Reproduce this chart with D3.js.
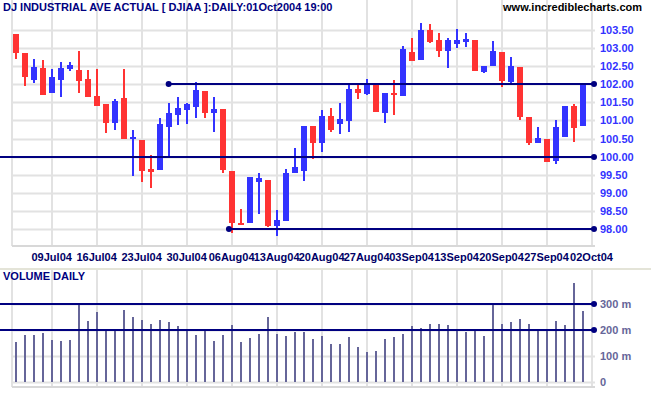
<!DOCTYPE html>
<html>
<head>
<meta charset="utf-8">
<script src="https://cdn.jsdelivr.net/npm/d3@7"></script>
<style>
  body { margin: 0; background: #fff; }
  svg { display: block; font-family: Arial, "Liberation Sans", sans-serif; font-weight: bold; font-size: 11px; }
</style>
</head>
<body>
<svg id="chart" width="651" height="395"></svg>
<script>
// Daily DJIA candles, 02 Jul 2004 .. 01 Oct 2004 (one entry per trading day)
const opens  = [103.38,102.85,102.11,102.44,101.76,102.11,102.41,102.39,102.14,101.67,
                101.45,100.94,101.61,100.48,100.46,99.65,99.63,100.83,101.15,101.29,
                101.38,101.82,101.20,101.31,99.61,98.18,98.17,99.29,99.36,98.09,
                98.24,99.54,99.61,100.85,100.39,101.13,100.90,100.99,101.86,101.73,
                102.00,101.21,101.75,101.67,102.87,102.66,103.49,103.20,102.92,103.10,
                103.17,103.21,102.34,102.51,102.89,102.07,102.48,101.10,100.39,100.49,
                99.89,100.55,101.40,100.85];
const highs  = [103.38,102.85,102.69,102.66,102.42,102.61,102.60,102.91,102.39,102.41,
                101.45,101.59,102.41,100.74,100.46,100.05,101.06,101.47,101.64,101.47,
                102.07,101.82,101.65,101.31,99.61,98.55,99.43,99.54,99.36,98.53,
                99.65,100.23,100.85,100.85,101.29,101.35,101.49,102.04,101.97,102.14,
                102.00,101.75,102.11,103.05,103.28,103.69,103.66,103.42,103.26,103.51,
                103.42,103.21,102.50,103.19,102.89,102.74,102.48,101.10,100.83,100.49,
                101.01,101.40,101.45,102.02];
const lows   = [102.69,101.96,102.04,101.70,101.76,101.65,102.37,101.76,101.65,101.40,
                100.66,100.73,100.48,99.47,99.31,99.15,99.63,99.96,100.87,100.90,
                101.06,101.06,100.69,99.56,97.91,98.11,98.17,98.41,98.07,97.82,
                98.24,99.54,99.33,99.93,100.14,100.69,100.63,100.69,101.59,101.70,
                101.24,100.94,101.15,101.67,102.64,102.66,103.12,102.74,102.44,102.99,
                103.03,102.36,102.31,102.51,101.91,102.04,101.01,100.32,100.37,99.86,
                99.79,100.55,100.41,100.85];
const closes = [102.85,102.20,102.48,101.70,102.19,102.44,102.53,102.09,101.65,101.40,
                100.94,101.53,100.48,100.55,99.61,99.59,100.90,101.21,101.33,101.45,
                101.84,101.20,101.31,99.63,98.17,98.11,99.43,99.40,98.09,98.26,
                99.56,99.72,100.85,100.39,101.13,100.74,101.04,101.86,101.75,102.00,
                101.24,101.75,101.70,102.96,102.64,103.49,103.17,102.92,103.20,103.20,
                103.23,102.36,102.50,102.91,102.09,102.50,101.10,100.39,100.51,99.86,
                100.81,101.40,100.80,101.98];
// Volume in millions of shares
const volumes = [152,182,182,187,162,159,162,303,236,271,
                 201,201,279,252,240,225,240,230,217,201,
                 182,195,159,182,221,152,170,186,252,186,
                 178,191,191,166,178,146,146,174,135,115,
                 120,166,174,186,217,208,225,225,221,205,
                 191,205,178,299,225,230,243,225,205,201,
                 236,221,381,273];

// Week ticks (trading-day index) and their labels
const tickIdx    = [4, 9, 14, 19, 24, 29, 34, 39, 44, 49, 54, 59, 64];
const tickLabels = ["09Jul04","16Jul04","23Jul04","30Jul04","06Aug04","13Aug04",
                    "20Aug04","27Aug04","03Sep04","13Sep04","20Sep04","27Sep04","02Oct04"];
const priceTicks  = [98, 98.5, 99, 99.5, 100, 100.5, 101, 101.5, 102, 102.5, 103, 103.5];
const volumeTicks = [0, 100, 200, 300];

// Support / resistance lines: [price, start index]
const priceLines  = [[102, 17], [100, null], [98, 23.7]];
const volumeLines = [200, 300];

const svg = d3.select("#chart");

const x  = d3.scaleLinear().domain([0, 64]).range([15.7, 591.5]);
const y  = d3.scaleLinear().domain([98, 103.5]).range([229.3, 29.6]);
const yv = d3.scaleLinear().domain([0, 300]).range([381.5, 304.3]);

const gridColor = "#e2e2e2";
const navy = "#000080";
const left = 12, right = 595;

// ---- price panel grid
svg.append("g").selectAll("line").data(priceTicks).join("line")
    .attr("x1", left).attr("x2", right)
    .attr("y1", d => Math.round(y(d)) + 0.5).attr("y2", d => Math.round(y(d)) + 0.5)
    .attr("stroke", gridColor).attr("stroke-width", 2);

const vGrid = [0].concat(tickIdx);
svg.append("g").selectAll("line").data(vGrid).join("line")
    .attr("x1", d => d === 0 ? left : Math.round(x(d)))
    .attr("x2", d => d === 0 ? left : Math.round(x(d)))
    .attr("y1", 0).attr("y2", 246)
    .attr("stroke", gridColor).attr("stroke-width", 2);

svg.append("line").attr("x1", left).attr("x2", right).attr("y1", 246).attr("y2", 246)
    .attr("stroke", "#d8d8d8").attr("stroke-width", 2);

// ---- volume panel grid
svg.append("line").attr("x1", 0).attr("x2", 651).attr("y1", 269).attr("y2", 269)
    .attr("stroke", "#e4e4d8").attr("stroke-width", 2);

svg.append("g").selectAll("line").data(volumeTicks).join("line")
    .attr("x1", left).attr("x2", right)
    .attr("y1", d => Math.round(yv(d)) + 0.5).attr("y2", d => Math.round(yv(d)) + 0.5)
    .attr("stroke", gridColor).attr("stroke-width", 2);

svg.append("g").selectAll("line").data(vGrid).join("line")
    .attr("x1", d => d === 0 ? left : Math.round(x(d)))
    .attr("x2", d => d === 0 ? left : Math.round(x(d)))
    .attr("y1", 270).attr("y2", 387)
    .attr("stroke", gridColor).attr("stroke-width", 2);

svg.append("line").attr("x1", left).attr("x2", right).attr("y1", 387).attr("y2", 387)
    .attr("stroke", "#d8d8d8").attr("stroke-width", 2);

// ---- candles
const candles = d3.range(opens.length).map(i => ({
    i: i, o: opens[i], h: highs[i], l: lows[i], c: closes[i], v: volumes[i]
}));

const cg = svg.append("g").selectAll("g").data(candles).join("g")
    .attr("fill", d => d.c >= d.o ? "#3333ff" : "#ff3333");

cg.append("rect")
    .attr("x", d => Math.round(x(d.i)) - 1).attr("width", 2)
    .attr("y", d => Math.round(y(d.h)))
    .attr("height", d => Math.max(1, Math.round(y(d.l)) - Math.round(y(d.h))));

cg.append("rect")
    .attr("x", d => Math.round(x(d.i)) - 3).attr("width", 6)
    .attr("y", d => Math.round(y(Math.max(d.o, d.c))))
    .attr("height", d => Math.max(2, Math.round(y(Math.min(d.o, d.c))) - Math.round(y(Math.max(d.o, d.c)))));

// ---- volume bars
svg.append("g").selectAll("rect").data(candles).join("rect")
    .attr("x", d => Math.round(x(d.i)) - 1).attr("width", 2)
    .attr("y", d => Math.round(yv(d.v)))
    .attr("height", d => Math.round(yv(0)) - Math.round(yv(d.v)))
    .attr("fill", "#666699");

// ---- horizontal trend lines with end dots
priceLines.forEach(function(p) {
    const yy = Math.round(y(p[0]));
    const x0 = p[1] === null ? 0 : x(p[1]);
    svg.append("line").attr("x1", x0).attr("x2", right).attr("y1", yy).attr("y2", yy)
        .attr("stroke", navy).attr("stroke-width", 2);
    if (p[1] !== null) svg.append("circle").attr("cx", x0).attr("cy", yy).attr("r", 3).attr("fill", navy);
    svg.append("circle").attr("cx", right - 1).attr("cy", yy).attr("r", 3).attr("fill", navy);
});

volumeLines.forEach(function(v) {
    const yy = Math.round(yv(v));
    svg.append("line").attr("x1", 0).attr("x2", right).attr("y1", yy).attr("y2", yy)
        .attr("stroke", navy).attr("stroke-width", 2);
    svg.append("circle").attr("cx", right - 1).attr("cy", yy).attr("r", 3).attr("fill", navy);
});

// ---- axes labels
svg.append("g").selectAll("text").data(priceTicks).join("text")
    .attr("x", 600).attr("y", d => y(d) + 4)
    .attr("fill", "#3333ff")
    .text(d => d.toFixed(2));

svg.append("g").selectAll("text").data(volumeTicks).join("text")
    .attr("x", 600).attr("y", d => yv(d) + 4)
    .attr("fill", "#666699")
    .text(d => d === 0 ? "0" : d + " m");

svg.append("g").selectAll("text").data(tickIdx).join("text")
    .attr("x", d => x(d)).attr("y", 261)
    .attr("text-anchor", "middle")
    .attr("fill", "#000066")
    .text((d, i) => tickLabels[i]);

// ---- titles
svg.append("text").attr("x", 3).attr("y", 11).attr("fill", navy)
    .text("DJ INDUSTRIAL AVE ACTUAL [ DJIAA ]:DAILY:01Oct2004 19:00");
svg.append("text").attr("x", 642).attr("y", 11).attr("text-anchor", "end").attr("fill", "#000")
    .text("www.incrediblecharts.com");
svg.append("text").attr("x", 3).attr("y", 280).attr("fill", navy)
    .text("VOLUME DAILY");
</script>
</body>
</html>
